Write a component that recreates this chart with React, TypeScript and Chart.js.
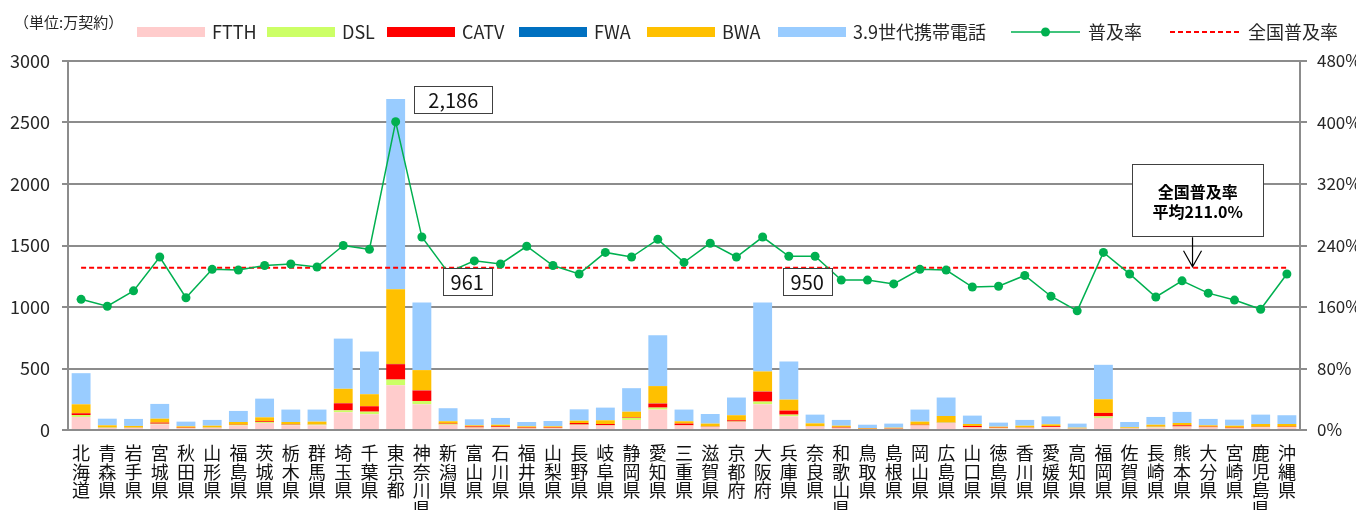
import React, { useEffect, useRef } from 'react';
import { Chart, registerables } from 'chart.js';

Chart.register(...registerables);

const FONT = "'Noto Sans CJK JP', 'Noto Sans', sans-serif";

const prefectures = [
  '北海道', '青森県', '岩手県', '宮城県', '秋田県', '山形県', '福島県', '茨城県', '栃木県', '群馬県',
  '埼玉県', '千葉県', '東京都', '神奈川県', '新潟県', '富山県', '石川県', '福井県', '山梨県', '長野県',
  '岐阜県', '静岡県', '愛知県', '三重県', '滋賀県', '京都府', '大阪府', '兵庫県', '奈良県', '和歌山県',
  '鳥取県', '島根県', '岡山県', '広島県', '山口県', '徳島県', '香川県', '愛媛県', '高知県', '福岡県',
  '佐賀県', '長崎県', '熊本県', '大分県', '宮崎県', '鹿児島県', '沖縄県',
];

const ftth = [106, 16, 16, 45, 14, 17, 36, 56, 38, 38, 144, 128, 364, 209, 42, 18, 20, 12, 14, 40, 35, 82, 166, 36, 25, 66, 209, 111, 28, 17, 8, 9, 36, 57, 20, 13, 17, 22, 10, 98, 12, 20, 26, 20, 12, 22, 22];
const dsl = [16, 4, 3, 6, 2, 3, 5, 8, 5, 6, 16, 21, 46, 27, 5, 3, 3, 2, 2, 4, 3, 16, 16, 2, 2, 3, 22, 14, 2, 2, 1, 1, 2, 4, 2, 3, 2, 2, 2, 13, 2, 6, 3, 2, 2, 3, 2];
const catv = [14, 2, 2, 9, 3, 2, 2, 7, 4, 2, 57, 44, 125, 85, 5, 8, 7, 6, 4, 13, 11, 4, 33, 14, 3, 10, 81, 33, 2, 6, 2, 3, 5, 3, 11, 3, 3, 7, 2, 28, 2, 2, 9, 5, 5, 2, 3];
const fwa = [0, 0, 0, 0, 0, 0, 0, 0, 0, 0, 1, 0, 2, 1, 0, 0, 0, 0, 0, 0, 0, 0, 1, 0, 0, 0, 1, 0, 0, 0, 0, 0, 0, 0, 0, 0, 0, 0, 0, 0, 0, 0, 0, 0, 0, 0, 0];
const bwa = [73, 16, 12, 32, 11, 13, 22, 32, 18, 22, 117, 98, 608, 165, 19, 9, 13, 10, 10, 19, 30, 47, 141, 19, 22, 41, 163, 89, 22, 10, 5, 6, 25, 50, 16, 8, 13, 15, 5, 111, 6, 15, 19, 11, 16, 22, 22];
const lte = [253, 54, 57, 120, 38, 47, 90, 152, 101, 98, 408, 347, 1547, 549, 106, 49, 55, 35, 43, 92, 103, 191, 413, 95, 78, 144, 560, 310, 71, 47, 27, 33, 98, 150, 68, 33, 47, 65, 33, 280, 43, 63, 90, 52, 49, 76, 71];
const penetration = [170, 161, 181, 225, 172, 209, 208, 214, 216, 212, 240, 235, 401, 251, 205, 220, 216, 239, 214, 203, 231, 225, 248, 218, 243, 225, 251, 226, 226, 195, 195, 190, 209, 208, 186, 187, 201, 174, 155, 231, 203, 173, 194, 178, 169, 157, 203];
const nationalAverage = 211;
const nationalLine = prefectures.map(() => nationalAverage);

const leftTicks = [0, 500, 1000, 1500, 2000, 2500, 3000];
const rightTicks = [0, 80, 160, 240, 320, 400, 480];

const seriesNames = ['FTTH', 'DSL', 'CATV', 'FWA', 'BWA', '3.9世代携帯電話', '普及率', '全国普及率'];
const seriesColors = ['#FFCCCC', '#CCFF66', '#FF0000', '#0070C0', '#FFC000', '#99CCFF', '#00B050', '#FF0000'];
const barSeries = [ftth, dsl, catv, fwa, bwa, lte];

const unitLabel = '（単位:万契約）';
const callouts = [
  { text: '2,186', index: 14.2, value: 2690, axis: 'y', w: 78, h: 27 },
  { text: '961', index: 14.73, value: 193, axis: 'y1', w: 49, h: 27 },
  { text: '950', index: 27.7, value: 193, axis: 'y1', w: 49, h: 27 },
];
const avgNote = { lines: ['全国普及率', '平均211.0%'], index: 42.6, value: 299, w: 131, h: 72, arrowIndex: 42.4 };

const W = 1356;
const H = 502;

// legend layout (canvas x)
const legendBoxes = [129, 259, 379, 511, 639, 770];
const legendLine = { x0: 1003, x1: 1072, text: 1080 };
const legendDash = { x0: 1162, x1: 1231, text: 1240 };
const legendY = 24;

const overlayPlugin = {
  id: 'overlay',
  afterDraw(chart: any) {
    const ctx = chart.ctx as CanvasRenderingContext2D;
    const xs = chart.scales.x;
    const ys = chart.scales.y;
    const y1 = chart.scales.y1;
    ctx.save();
    // unit label
    ctx.fillStyle = '#262626';
    ctx.font = `15px ${FONT}`;
    ctx.textBaseline = 'middle';
    ctx.textAlign = 'left';
    ctx.fillText(unitLabel, 6, 14);

    // legend
    ctx.font = `18px ${FONT}`;
    for (let i = 0; i < 6; i++) {
      const bx = legendBoxes[i];
      ctx.fillStyle = seriesColors[i];
      ctx.fillRect(bx, legendY - 5, 68, 10);
      ctx.fillStyle = '#262626';
      ctx.fillText(seriesNames[i], bx + 75, legendY);
    }
    ctx.strokeStyle = seriesColors[6];
    ctx.lineWidth = 1.5;
    ctx.beginPath();
    ctx.moveTo(legendLine.x0, legendY);
    ctx.lineTo(legendLine.x1, legendY);
    ctx.stroke();
    ctx.fillStyle = seriesColors[6];
    ctx.beginPath();
    ctx.arc((legendLine.x0 + legendLine.x1) / 2, legendY, 4.5, 0, Math.PI * 2);
    ctx.fill();
    ctx.fillStyle = '#262626';
    ctx.fillText(seriesNames[6], legendLine.text, legendY);

    ctx.strokeStyle = seriesColors[7];
    ctx.lineWidth = 2;
    ctx.setLineDash([5, 3]);
    ctx.beginPath();
    ctx.moveTo(legendDash.x0, legendY);
    ctx.lineTo(legendDash.x1, legendY);
    ctx.stroke();
    ctx.setLineDash([]);
    ctx.fillText(seriesNames[7], legendDash.text, legendY);

    // callouts
    ctx.font = `20px ${FONT}`;
    ctx.textAlign = 'center';
    for (const c of callouts) {
      const cx = xs.getPixelForValue(c.index);
      const scale = c.axis === 'y' ? ys : y1;
      const cy = scale.getPixelForValue(c.value);
      ctx.fillStyle = '#ffffff';
      ctx.fillRect(cx - c.w / 2, cy - c.h / 2, c.w, c.h);
      ctx.strokeStyle = '#404040';
      ctx.lineWidth = 1;
      ctx.strokeRect(Math.round(cx - c.w / 2) + 0.5, Math.round(cy - c.h / 2) + 0.5, c.w, c.h);
      ctx.fillStyle = '#111';
      ctx.fillText(c.text, cx, cy + 1);
    }

    // national average note
    const nx = xs.getPixelForValue(avgNote.index);
    const ny = y1.getPixelForValue(avgNote.value);
    ctx.fillStyle = '#ffffff';
    ctx.fillRect(nx - avgNote.w / 2, ny - avgNote.h / 2, avgNote.w, avgNote.h);
    ctx.strokeStyle = '#404040';
    ctx.lineWidth = 1;
    ctx.strokeRect(Math.round(nx - avgNote.w / 2) + 0.5, Math.round(ny - avgNote.h / 2) + 0.5, avgNote.w, avgNote.h);
    ctx.fillStyle = '#000';
    ctx.font = `bold 16px ${FONT}`;
    ctx.fillText(avgNote.lines[0], nx, ny - 8);
    ctx.fillText(avgNote.lines[1], nx, ny + 12);
    const ax = xs.getPixelForValue(avgNote.arrowIndex);
    const tipY = y1.getPixelForValue(nationalAverage) - 1;
    const startY = ny + avgNote.h / 2 + 1;
    ctx.strokeStyle = '#000';
    ctx.lineWidth = 1.2;
    ctx.beginPath();
    ctx.moveTo(ax, startY);
    ctx.lineTo(ax, tipY);
    ctx.moveTo(ax - 9, tipY - 16);
    ctx.lineTo(ax, tipY);
    ctx.lineTo(ax + 9, tipY - 16);
    ctx.stroke();
    ctx.restore();
  },
};

export default function App() {
  const ref = useRef<HTMLCanvasElement | null>(null);

  useEffect(() => {
    document.documentElement.style.overflow = 'hidden';
    document.body.style.overflow = 'hidden';
    const gridColor = '#8c8c8c';
    const tickColor = '#262626';
    const datasets: any[] = barSeries.map((data, i) => ({
      type: 'bar',
      label: seriesNames[i],
      data,
      backgroundColor: seriesColors[i],
      borderWidth: 0,
      stack: 'bars',
      yAxisID: 'y',
      order: 2,
      barPercentage: 0.72,
      categoryPercentage: 1,
    }));
    datasets.push({
      type: 'line',
      label: seriesNames[7],
      data: nationalLine,
      borderColor: seriesColors[7],
      borderWidth: 2,
      borderDash: [5, 3],
      pointRadius: 0,
      yAxisID: 'y1',
      order: 1,
    });
    datasets.push({
      type: 'line',
      label: seriesNames[6],
      data: penetration,
      borderColor: seriesColors[6],
      backgroundColor: seriesColors[6],
      borderWidth: 1.5,
      pointRadius: 4.5,
      pointBackgroundColor: seriesColors[6],
      pointBorderColor: seriesColors[6],
      pointBorderWidth: 0,
      tension: 0,
      yAxisID: 'y1',
      order: 0,
    });

    const chart = new Chart(ref.current as HTMLCanvasElement, {
      type: 'bar',
      data: {
        labels: prefectures.map((p) => Array.from(p)),
        datasets,
      },
      options: {
        responsive: false,
        animation: false,
        devicePixelRatio: 1,
        layout: { padding: { top: 53, left: 0, right: 0, bottom: 0 } },
        plugins: { legend: { display: false }, tooltip: { enabled: false } },
        scales: {
          x: {
            stacked: true,
            grid: { display: false, drawTicks: false },
            border: { display: false },
            ticks: {
              autoSkip: false,
              maxRotation: 0,
              minRotation: 0,
              padding: 14,
              color: '#111',
              font: { family: FONT, size: 18, lineHeight: 1.03 },
            },
            afterFit: (s: any) => {
              s.height = 80;
            },
          },
          y: {
            position: 'left',
            stacked: true,
            min: 0,
            max: 3000,
            afterBuildTicks: (s: any) => {
              s.ticks = leftTicks.map((v) => ({ value: v }));
            },
            grid: { color: gridColor, lineWidth: 2, tickLength: 6 },
            border: { display: true, color: gridColor, width: 2 },
            ticks: {
              padding: 12,
              color: tickColor,
              font: { family: FONT, size: 18 },
              callback: (v: any) => String(v),
            },
            afterFit: (s: any) => {
              s.width = 60;
            },
          },
          y1: {
            position: 'right',
            stacked: false,
            min: 0,
            max: 480,
            afterBuildTicks: (s: any) => {
              s.ticks = rightTicks.map((v) => ({ value: v }));
            },
            grid: { drawOnChartArea: false, color: gridColor, lineWidth: 2, tickLength: 7 },
            border: { display: true, color: gridColor, width: 2 },
            ticks: {
              padding: 10,
              color: tickColor,
              font: { family: FONT, size: 17 },
              callback: (v: any) => `${v}%`,
            },
            afterFit: (s: any) => {
              s.width = 64;
            },
          },
        },
      },
      plugins: [overlayPlugin],
    } as any);
    return () => chart.destroy();
  }, []);

  return (
    <div style={{ width: W, height: H, overflow: 'hidden' }}>
      <canvas ref={ref} width={W} height={H} style={{ display: 'block', width: W, height: H }} />
    </div>
  );
}
